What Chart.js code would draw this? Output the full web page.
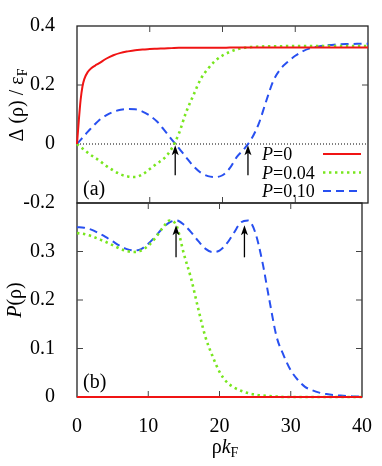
<!DOCTYPE html>
<html>
<head>
<meta charset="utf-8">
<script src="https://cdn.jsdelivr.net/npm/chart.js@4.4.0/dist/chart.umd.min.js"></script>
<style>
  html, body { margin: 0; padding: 0; background: #fff; }
  #wrap { position: relative; width: 382px; height: 466px; }
  #wrap canvas { position: absolute; left: 0; top: 0; }
</style>
</head>
<body>
<div id="wrap">
  <canvas id="gapChart" width="382" height="466"></canvas>
  <canvas id="probChart" width="382" height="466"></canvas>
</div>
<script>
const serif = "'Liberation Serif', 'Times New Roman', Times, 'DejaVu Serif', serif";
Chart.defaults.font.family = serif;
Chart.defaults.font.size = 20;
Chart.defaults.color = "#000";

// panel (a): gap Delta(rho)/eF
const rhoTop = [0, 0.25, 0.5, 0.75, 1, 1.5, 2, 2.5, 3, 4, 5, 6, 7, 8, 9, 10, 11, 12, 13, 14, 15, 16, 17, 18, 19, 20,
  21, 22, 23, 24, 25, 26, 27, 28, 29, 30, 31, 32, 33, 34, 35, 36, 37, 38, 39, 40];
const gapP0 = [0, 0.08, 0.15, 0.195, 0.22, 0.245, 0.258, 0.266, 0.273, 0.289, 0.301, 0.309, 0.314, 0.318, 0.32, 0.322,
  0.323, 0.324, 0.325, 0.326, 0.326, 0.326, 0.326, 0.326, 0.326, 0.326, 0.327, 0.327, 0.327, 0.327, 0.327, 0.327,
  0.327, 0.327, 0.327, 0.327, 0.327, 0.327, 0.327, 0.327, 0.327, 0.327, 0.327, 0.327, 0.327, 0.327];
const gapP04 = [0, -0.005, -0.01, -0.015, -0.02, -0.03, -0.039, -0.047, -0.055, -0.074, -0.09, -0.103, -0.11, -0.112,
  -0.103, -0.085, -0.066, -0.048, -0.016, 0.035, 0.108, 0.165, 0.22, 0.255, 0.282, 0.3, 0.312, 0.321, 0.326, 0.329,
  0.33, 0.331, 0.331, 0.331, 0.332, 0.332, 0.332, 0.332, 0.332, 0.332, 0.332, 0.332, 0.332, 0.332, 0.332, 0.332];
const gapP10 = [0, 0.007, 0.014, 0.021, 0.028, 0.042, 0.055, 0.068, 0.08, 0.097, 0.109, 0.116, 0.119, 0.118, 0.11,
  0.096, 0.076, 0.047, 0.016, -0.014, -0.045, -0.075, -0.097, -0.109, -0.112, -0.106, -0.082, -0.043, -0.016, 0.018,
  0.07, 0.145, 0.215, 0.255, 0.279, 0.299, 0.314, 0.324, 0.33, 0.334, 0.336, 0.338, 0.339, 0.339, 0.34, 0.34];

// panel (b): P(rho)
const rhoBot = [0, 1, 2, 3, 4, 5, 6, 7, 8, 9, 10, 11, 12, 13, 14, 15, 16, 17, 18, 19, 20,
  21, 22, 23, 24, 25, 26, 27, 28, 29, 30, 31, 32, 33, 34, 35, 36, 37, 38, 39, 40];
const rhoFlat = [0, 40];
const probP0 = [0, 0];
const probP04 = [0.338, 0.336, 0.332, 0.326, 0.32, 0.313, 0.306, 0.301, 0.299, 0.302, 0.312, 0.328, 0.348, 0.364,
  0.352, 0.295, 0.245, 0.183, 0.125, 0.085, 0.052, 0.031, 0.02, 0.013, 0.008, 0.005, 0.003, 0.002, 0.001, 0, 0,
  0, 0, 0, 0, 0, 0, 0, 0, 0, 0];
const probP10 = [0.35, 0.349, 0.345, 0.338, 0.33, 0.321, 0.312, 0.305, 0.302, 0.305, 0.316, 0.331, 0.348, 0.36, 0.364,
  0.355, 0.34, 0.322, 0.306, 0.299, 0.302, 0.316, 0.338, 0.36, 0.364, 0.34, 0.28, 0.2, 0.125, 0.086, 0.055, 0.035,
  0.021, 0.014, 0.009, 0.006, 0.004, 0.003, 0.002, 0.001, 0.001];

const xTicks = [0, 10, 20, 30, 40];
const gapTicks = [-0.2, 0, 0.2, 0.4];
const probTicks = [0, 0.1, 0.2, 0.3];
const legendValues = ["0", "0.04", "0.10"];

// arrows: rho position, tail and tip values
const arrowRhoTop = [13.5, 23.5];
const arrowGap = [-0.106, -0.004];
const arrowRhoBot = [13.9, 23.5];
const arrowProb = [0.288, 0.354];

const pts = (xs, ys) => xs.map((x, i) => ({ x, y: ys[i] }));

const red = { borderColor: "#f01414", borderWidth: 2 };
const green = { borderColor: "#78e61e", borderWidth: 2.6, borderDash: [2.4, 3.6] };
const blue = { borderColor: "#2850f0", borderWidth: 2, borderDash: [8, 5] };
const lineStyles = [red, green, blue];

function richText(ctx, parts, cx, cy, angle) {
  ctx.save();
  ctx.translate(cx, cy);
  ctx.rotate(angle);
  let w = 0;
  parts.forEach((p) => { ctx.font = p.font; w += ctx.measureText(p.t).width; });
  let x = -w / 2;
  ctx.textBaseline = "alphabetic";
  ctx.textAlign = "left";
  ctx.fillStyle = "#000";
  parts.forEach((p) => {
    ctx.font = p.font;
    ctx.fillText(p.t, x, p.dy || 0);
    x += ctx.measureText(p.t).width;
  });
  ctx.restore();
}

function drawFrame(chart, innerY) {
  const { ctx, chartArea: a, scales } = chart;
  ctx.save();
  ctx.strokeStyle = "#222";
  ctx.lineWidth = 1.3;
  ctx.strokeRect(a.left, a.top, a.right - a.left, a.bottom - a.top);
  ctx.lineWidth = 1;
  ctx.strokeStyle = "#444";
  ctx.beginPath();
  xTicks.slice(1, -1).forEach((v) => {
    const px = scales.x.getPixelForValue(v);
    ctx.moveTo(px, a.top); ctx.lineTo(px, a.top + 6);
    ctx.moveTo(px, a.bottom); ctx.lineTo(px, a.bottom - 6);
  });
  innerY.forEach((v) => {
    const py = scales.y.getPixelForValue(v);
    ctx.moveTo(a.left, py); ctx.lineTo(a.left + 6, py);
    ctx.moveTo(a.right, py); ctx.lineTo(a.right - 6, py);
  });
  ctx.stroke();
  ctx.restore();
}

function drawArrows(chart, xs, ys) {
  const { ctx, scales } = chart;
  ctx.save();
  ctx.strokeStyle = "#000";
  ctx.fillStyle = "#000";
  ctx.lineWidth = 1.3;
  xs.forEach((v) => {
    const px = scales.x.getPixelForValue(v);
    const y0 = scales.y.getPixelForValue(ys[0]);
    const y1 = scales.y.getPixelForValue(ys[1]);
    ctx.beginPath();
    ctx.moveTo(px, y0); ctx.lineTo(px, y1 + 6);
    ctx.stroke();
    ctx.beginPath();
    ctx.moveTo(px, y1);
    ctx.lineTo(px - 3.5, y1 + 10);
    ctx.lineTo(px, y1 + 7.5);
    ctx.lineTo(px + 3.5, y1 + 10);
    ctx.closePath();
    ctx.fill();
  });
  ctx.restore();
}

function yAxis(min, max, ticks) {
  return {
    type: "linear", min, max,
    grid: { display: false }, border: { display: false },
    afterFit: (s) => { s.width = 77; },
    afterBuildTicks: (s) => { s.ticks = ticks.map((v) => ({ value: v })); },
    ticks: { padding: 14, callback: (v) => String(v) }
  };
}

const gapPlugin = {
  id: "gapDecor",
  beforeDatasetsDraw(chart) {
    const { ctx, chartArea: a, scales } = chart;
    drawFrame(chart, [0.2]);
    const y0 = scales.y.getPixelForValue(0);
    ctx.save();
    ctx.strokeStyle = "#000";
    ctx.lineWidth = 1;
    ctx.setLineDash([1, 2]);
    ctx.beginPath();
    ctx.moveTo(a.left, y0); ctx.lineTo(a.right, y0);
    ctx.stroke();
    ctx.restore();
  },
  afterDatasetsDraw(chart) {
    const { ctx } = chart;
    drawArrows(chart, arrowRhoTop, arrowGap);
    ctx.save();
    ctx.fillStyle = "#000";
    ctx.font = "20px " + serif;
    ctx.textBaseline = "alphabetic";
    ctx.fillText("(a)", 83, 195);
    // legend
    const rows = [154, 172.5, 191];
    legendValues.forEach((val, i) => {
      ctx.fillStyle = "#000";
      ctx.font = "italic 18px " + serif;
      ctx.fillText("P", 262, rows[i] + 6);
      const pw = ctx.measureText("P").width;
      ctx.font = "18px " + serif;
      ctx.fillText("=" + val, 262 + pw, rows[i] + 6);
      const st = lineStyles[i];
      ctx.save();
      ctx.strokeStyle = st.borderColor;
      ctx.lineWidth = st.borderWidth;
      ctx.setLineDash(st.borderDash || []);
      ctx.beginPath();
      ctx.moveTo(323, rows[i]); ctx.lineTo(361, rows[i]);
      ctx.stroke();
      ctx.restore();
    });
    ctx.restore();
    richText(ctx, [
      { t: "\u0394 (\u03c1) / \u03b5", font: "20px " + serif },
      { t: "F", font: "14px " + serif, dy: 4 }
    ], 23, 105, -Math.PI / 2);
  }
};

const probPlugin = {
  id: "probDecor",
  beforeDatasetsDraw(chart) {
    drawFrame(chart, [0.1, 0.2, 0.3]);
  },
  afterDatasetsDraw(chart) {
    const { ctx } = chart;
    drawArrows(chart, arrowRhoBot, arrowProb);
    ctx.save();
    ctx.fillStyle = "#000";
    ctx.font = "20px " + serif;
    ctx.fillText("(b)", 83, 388);
    ctx.restore();
    richText(ctx, [
      { t: "P", font: "italic 20px " + serif },
      { t: "(\u03c1)", font: "20px " + serif }
    ], 21, 300, -Math.PI / 2);
    richText(ctx, [
      { t: "\u03c1", font: "20px " + serif },
      { t: "k", font: "italic 20px " + serif },
      { t: "F", font: "14px " + serif, dy: 4 }
    ], 225, 453, 0);
  }
};

const lineBase = { pointRadius: 0, fill: false, cubicInterpolationMode: "monotone", clip: 4 };

new Chart(document.getElementById("gapChart"), {
  type: "line",
  data: {
    datasets: [
      { ...lineBase, ...red, label: "P=0", data: pts(rhoTop, gapP0) },
      { ...lineBase, ...green, label: "P=0.04", data: pts(rhoTop, gapP04) },
      { ...lineBase, ...blue, label: "P=0.10", data: pts(rhoTop, gapP10) }
    ]
  },
  options: {
    responsive: false,
    animation: false,
    devicePixelRatio: 1,
    layout: { padding: { top: 12, right: 14, bottom: 263, left: 0 } },
    plugins: { legend: { display: false }, tooltip: { enabled: false } },
    scales: {
      x: { type: "linear", min: 0, max: 40, display: false },
      y: yAxis(-0.2, 0.4, gapTicks)
    }
  },
  plugins: [gapPlugin]
});

new Chart(document.getElementById("probChart"), {
  type: "line",
  data: {
    datasets: [
      { ...lineBase, ...red, label: "P=0", data: pts(rhoFlat, probP0) },
      { ...lineBase, ...green, label: "P=0.04", data: pts(rhoBot, probP04) },
      { ...lineBase, ...blue, label: "P=0.10", data: pts(rhoBot, probP10) }
    ]
  },
  options: {
    responsive: false,
    animation: false,
    devicePixelRatio: 1,
    layout: { padding: { top: 203, right: 14, bottom: 0, left: 0 } },
    plugins: { legend: { display: false }, tooltip: { enabled: false } },
    scales: {
      x: {
        type: "linear", min: 0, max: 40,
        grid: { display: false }, border: { display: false },
        afterFit: (s) => { s.height = 69; },
        afterBuildTicks: (s) => { s.ticks = xTicks.map((v) => ({ value: v })); },
        ticks: { padding: 10, maxRotation: 0, callback: (v) => String(v) }
      },
      y: yAxis(0, 0.4, probTicks)
    }
  },
  plugins: [probPlugin]
});
</script>
</body>
</html>
